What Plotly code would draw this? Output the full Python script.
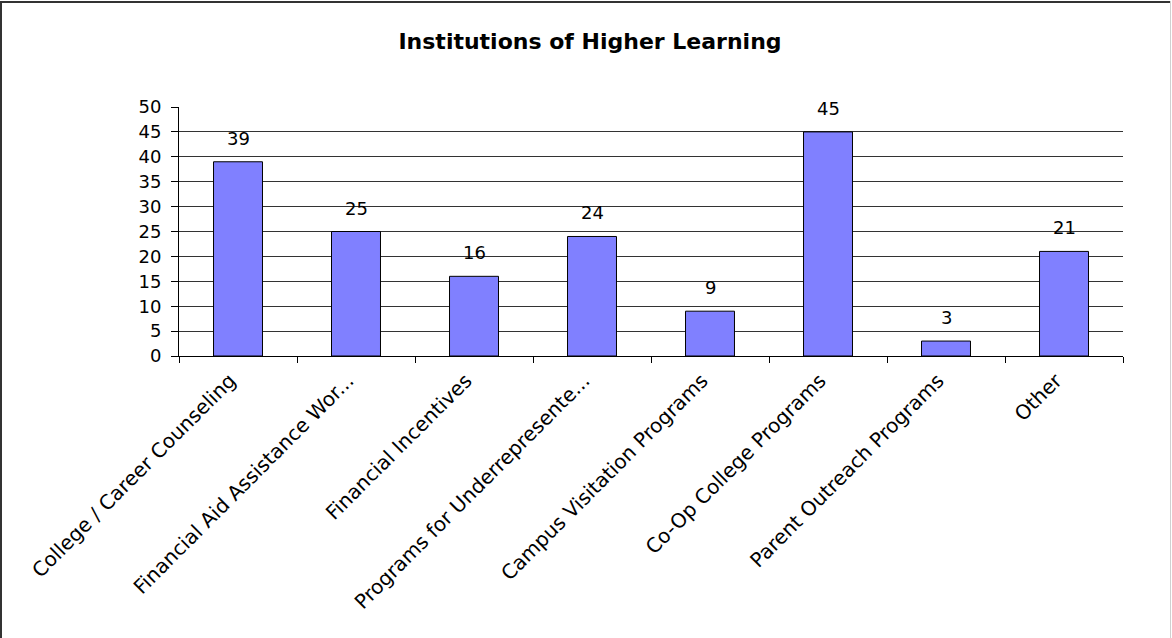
import plotly.graph_objects as go

categories = [
    "College / Career Counseling",
    "Financial Aid Assistance Wor...",
    "Financial Incentives",
    "Programs for Underrepresente...",
    "Campus Visitation Programs",
    "Co-Op College Programs",
    "Parent Outreach Programs",
    "Other",
]
values = [39, 25, 16, 24, 9, 45, 3, 21]
y_ticks = list(range(0, 51, 5))

W, H = 1172, 638
L, R, T, B = 179, 1123, 107, 356
FONT = "DejaVu Sans, Liberation Sans, Arial"

fig = go.Figure(go.Bar(
    x=categories, y=values,
    marker=dict(color="#8080FF", line=dict(color="#000000", width=1)),
))

for c, v in zip(categories, values):
    fig.add_annotation(x=c, y=v, text=str(v), showarrow=False, yanchor="bottom",
                       yshift=11, font=dict(family=FONT, size=18, color="#000"))

pw, ph = R - L, B - T
def px(x):
    return (x - L) / pw
def py(y):
    return (B - y) / ph

shapes = [
    dict(type="line", xref="paper", yref="paper", x0=px(1), x1=px(1), y0=py(1), y1=py(H), line=dict(color="#333", width=2)),
    dict(type="line", xref="paper", yref="paper", x0=px(0), x1=px(W - 1), y0=py(2), y1=py(2), line=dict(color="#333", width=2)),
    dict(type="line", xref="paper", yref="paper", x0=px(W - 1.5), x1=px(W - 1.5), y0=py(1), y1=py(H), line=dict(color="#d0d0d0", width=1)),
]

fig.update_layout(
    width=W, height=H,
    margin=dict(l=L, r=W - R, t=T, b=H - B, autoexpand=False),
    paper_bgcolor="white", plot_bgcolor="white",
    bargap=0.585,
    showlegend=False,
    title=dict(text="<b>Institutions of Higher Learning</b>", x=590 / W, xanchor="center",
               y=1 - 41 / H, yanchor="middle",
               font=dict(family=FONT, size=22, color="#000")),
    font=dict(family=FONT, size=18, color="#000"),
    xaxis=dict(tickangle=-45, showline=True, linecolor="#000", linewidth=1,
               ticks="outside", ticklen=6, tickcolor="#000", showgrid=False,
               tickson="boundaries", tickfont=dict(family=FONT, size=20),
               ticklabelshift=-8, ticklabelstandoff=4),
    yaxis=dict(range=[0, 50], tickvals=y_ticks, showgrid=True, gridcolor="#333", gridwidth=1,
               showline=True, linecolor="#000", linewidth=1, ticks="outside", ticklen=7,
               tickcolor="#000", zeroline=False, tickfont=dict(family=FONT, size=18),
               ticklabelstandoff=6),
    shapes=shapes,
)

fig.write_html("out.html", config={"displayModeBar": False},
               post_script="document.body.style.margin='0';document.body.style.overflow='hidden';")
